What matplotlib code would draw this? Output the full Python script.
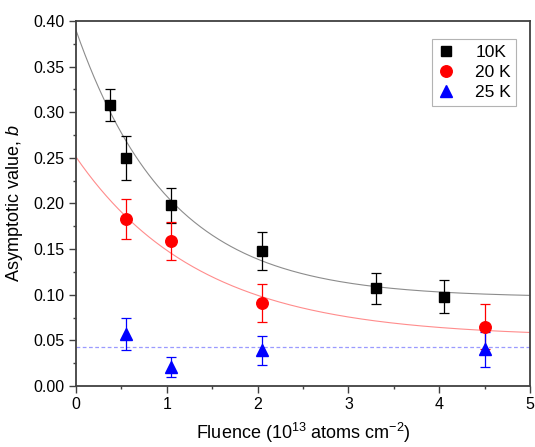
import numpy as np
import matplotlib
matplotlib.use("Agg")
import matplotlib.pyplot as plt
from matplotlib.ticker import MultipleLocator

plt.rcParams['font.family'] = ['Liberation Sans', 'DejaVu Sans']
plt.rcParams['mathtext.fontset'] = 'custom'
plt.rcParams['mathtext.rm'] = 'Liberation Sans'
plt.rcParams['mathtext.it'] = 'Liberation Sans:italic'

# Data
x10 = [0.37, 0.55, 1.05, 2.05, 3.30, 4.05]
y10 = [0.308, 0.250, 0.198, 0.148, 0.107, 0.098]
e10 = [0.018, 0.024, 0.019, 0.021, 0.017, 0.018]

x20 = [0.55, 1.05, 2.05, 4.50]
y20 = [0.183, 0.159, 0.091, 0.065]
e20 = [0.022, 0.021, 0.021, 0.025]

x25 = [0.55, 1.05, 2.05, 4.50]
y25 = [0.057, 0.021, 0.039, 0.040]
e25 = [0.018, 0.011, 0.016, 0.019]

# Exponential fit parameters: y = y0 + A*exp(-x/t)
fit10 = dict(y0=0.097, A=0.293, t=1.03)
fit20 = dict(y0=0.0535, A=0.1975, t=1.37)
mean25 = 0.043

fig = plt.figure(figsize=(5.35, 4.47), dpi=100)
ax = fig.add_axes([0.142, 0.1365, 0.8487, 0.8165])

xf = np.linspace(0, 5, 300)
ax.plot(xf, fit10['y0'] + fit10['A'] * np.exp(-xf / fit10['t']), color='#8c8c8c', lw=0.8, zorder=1)
ax.plot(xf, fit20['y0'] + fit20['A'] * np.exp(-xf / fit20['t']), color='#ff8c8c', lw=0.8, zorder=1)
ax.axhline(mean25, color='#9a9aff', lw=0.9, ls=(0, (3, 2)), zorder=1)

ax.errorbar(x10, y10, yerr=e10, fmt='s', color='black', ms=7.5, capsize=3.8,
            elinewidth=0.9, capthick=0.9, label='10K', zorder=3)
ax.errorbar(x20, y20, yerr=e20, fmt='o', color='red', ms=8.3, capsize=3.8,
            elinewidth=0.9, capthick=0.9, label='20 K', zorder=3)
ax.errorbar(x25, y25, yerr=e25, fmt='^', color='blue', ms=8.5, capsize=3.8,
            elinewidth=0.9, capthick=0.9, label='25 K', zorder=3)

ax.set_xlim(0, 5)
ax.set_ylim(0, 0.40)
ax.xaxis.set_major_locator(MultipleLocator(1))
ax.xaxis.set_minor_locator(MultipleLocator(0.5))
ax.set_yticks(np.arange(0, 0.401, 0.05))
ax.set_yticklabels([f"{v:.2f}" for v in np.arange(0, 0.401, 0.05)])
ax.yaxis.set_minor_locator(MultipleLocator(0.025))

for s in ax.spines.values():
    s.set_color('#404040')
    s.set_linewidth(1.3)
ax.tick_params(which='major', direction='out', length=5, width=1.0, color='#404040',
               labelsize=11.5, pad=3)
ax.tick_params(which='minor', direction='out', length=2.5, width=1.0, color='#404040')

ax.set_xlabel('Fluence (10$^{13}$ atoms cm$^{-2}$)', fontsize=13, labelpad=6)
ax.set_ylabel('Asymptotic value, $b$', fontsize=13, labelpad=6)

handles, labels = ax.get_legend_handles_labels()
handles = [h[0] for h in handles]
leg = ax.legend(handles, labels, loc='upper right', bbox_to_anchor=(0.97, 0.95),
                fontsize=12.5, frameon=True, fancybox=False, handlelength=1.0,
                handletextpad=1.2, borderpad=0.3, labelspacing=0.3, borderaxespad=0)
leg.get_frame().set_edgecolor('#a0a0a0')
leg.get_frame().set_linewidth(0.8)

fig.savefig('out.png', dpi=100)
